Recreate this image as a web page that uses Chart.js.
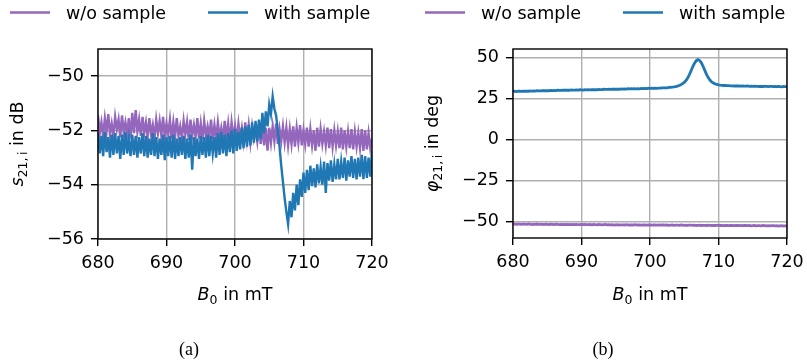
<!DOCTYPE html>
<html lang="en">
  <head>
    <meta charset="UTF-8" />
    <title>Transmission with and without sample</title>
    <style>
      body {
        margin: 0;
        padding: 0;
        background: #fff;
        width: 807px;
        height: 362px;
        overflow: hidden;
      }
      .row {
        display: flex;
      }
      canvas {
        display: block;
      }
    </style>
  </head>
  <body>
    <div class="row">
      <canvas id="chartA" width="403" height="362"></canvas>
      <canvas id="chartB" width="404" height="362"></canvas>
    </div>

    <script src="https://cdn.jsdelivr.net/npm/chart.js"></script>
    <script>
      // magnetic field B0 in mT (sweep points)
      const fieldMT = [
        680, 680.25, 680.5, 680.75, 681, 681.25, 681.5, 681.75,
        682, 682.25, 682.5, 682.75, 683, 683.25, 683.5, 683.75,
        684, 684.25, 684.5, 684.75, 685, 685.25, 685.5, 685.75,
        686, 686.25, 686.5, 686.75, 687, 687.25, 687.5, 687.75,
        688, 688.25, 688.5, 688.75, 689, 689.25, 689.5, 689.75,
        690, 690.25, 690.5, 690.75, 691, 691.25, 691.5, 691.75,
        692, 692.25, 692.5, 692.75, 693, 693.25, 693.5, 693.75,
        694, 694.25, 694.5, 694.75, 695, 695.25, 695.5, 695.75,
        696, 696.25, 696.5, 696.75, 697, 697.25, 697.5, 697.75,
        698, 698.25, 698.5, 698.75, 699, 699.25, 699.5, 699.75,
        700, 700.25, 700.5, 700.75, 701, 701.25, 701.5, 701.75,
        702, 702.25, 702.5, 702.75, 703, 703.25, 703.5, 703.75,
        704, 704.25, 704.5, 704.75, 705, 705.25, 705.5, 705.75,
        706, 706.25, 706.5, 706.75, 707, 707.25, 707.5, 707.75,
        708, 708.25, 708.5, 708.75, 709, 709.25, 709.5, 709.75,
        710, 710.25, 710.5, 710.75, 711, 711.25, 711.5, 711.75,
        712, 712.25, 712.5, 712.75, 713, 713.25, 713.5, 713.75,
        714, 714.25, 714.5, 714.75, 715, 715.25, 715.5, 715.75,
        716, 716.25, 716.5, 716.75, 717, 717.25, 717.5, 717.75,
        718, 718.25, 718.5, 718.75, 719, 719.25, 719.5, 719.75,
        720,
      ];

      // (a) s21,i in dB
      const s21NoSample = [
        -51.45, -52.1, -51.7, -52.2, -51.55, -52.05, -51.4, -52.15,
        -51.75, -52.2, -51.5, -51.95, -51.6, -52.25, -51.45, -52.05,
        -51.7, -52.15, -51.55, -52.3, -51.35, -52.1, -51.25, -52.05,
        -51.6, -52.2, -51.5, -52.1, -51.7, -52.25, -51.55, -52.15,
        -51.8, -52.3, -51.6, -52.1, -51.65, -52.2, -51.5, -52.25,
        -51.75, -52.15, -51.6, -52.3, -51.7, -52.25, -51.55, -52.2,
        -51.85, -52.3, -51.65, -52.15, -51.7, -52.35, -51.6, -52.2,
        -51.8, -52.25, -51.55, -52.3, -51.75, -52.35, -51.65, -52.2,
        -51.85, -52.25, -51.6, -52.35, -51.8, -52.3, -51.7, -52.25,
        -51.9, -52.35, -51.65, -52.3, -51.75, -52.4, -51.7, -52.25,
        -51.85, -52.35, -51.75, -52.3, -51.9, -52.4, -51.7, -52.35,
        -51.8, -52.45, -51.85, -52.3, -51.95, -52.4, -51.75, -52.5,
        -51.85, -52.55, -51.9, -52.75, -51.9, -52.45, -51.85, -52.4,
        -51.75, -52.5, -51.95, -52.4, -51.85, -52.45, -51.9, -52.55,
        -51.95, -52.5, -51.85, -52.6, -51.9, -52.45, -51.8, -52.55,
        -52.0, -52.5, -51.9, -52.6, -51.95, -52.55, -52.0, -52.75,
        -51.9, -52.6, -51.95, -52.5, -52.05, -52.55, -51.9, -52.65,
        -51.95, -52.6, -52.0, -52.55, -52.05, -52.65, -51.9, -52.7,
        -52.0, -52.6, -52.05, -52.65, -51.95, -52.7, -52.05, -52.6,
        -52.1, -52.65, -51.95, -52.75, -52.0, -52.7, -52.1, -52.65,
        -52.3,
      ];
      const s21WithSample = [
        -52.1, -52.85, -52.2, -52.95, -52.05, -52.8, -52.25, -53.0,
        -52.15, -52.9, -52.1, -52.85, -52.2, -53.05, -52.15, -52.9,
        -52.05, -52.85, -52.3, -52.95, -52.15, -52.9, -52.2, -53.0,
        -52.25, -52.85, -52.1, -52.95, -52.2, -53.0, -52.3, -52.9,
        -52.1, -52.95, -52.25, -53.05, -52.3, -52.9, -52.15, -53.1,
        -52.25, -52.95, -52.2, -53.0, -52.15, -53.05, -52.3, -52.95,
        -52.25, -52.9, -52.2, -53.05, -52.3, -53.0, -52.15, -53.45,
        -52.25, -52.95, -52.3, -53.05, -52.2, -52.9, -52.25, -53.0,
        -52.15, -52.95, -52.2, -52.85, -52.25, -53.0, -52.1, -52.9,
        -52.05, -52.85, -52.15, -52.95, -52.1, -52.8, -52.0, -52.85,
        -51.95, -52.75, -52.05, -52.7, -51.9, -52.65, -51.85, -52.6,
        -51.8, -52.55, -51.7, -52.45, -51.65, -52.4, -51.6, -52.3,
        -51.35, -52.1, -51.3, -51.85, -51.05, -51.4, -50.75, -51.2,
        -51.45, -52.0, -52.6, -53.3, -53.9, -54.5, -55.0, -55.45,
        -54.6, -55.2, -54.3, -54.95, -54.0, -54.75, -53.8, -54.45,
        -53.55, -54.3, -53.45, -54.2, -53.3, -54.05, -53.4, -54.1,
        -53.25, -53.95, -53.35, -54.0, -53.15, -54.3, -53.2, -53.85,
        -53.1, -53.9, -53.25, -53.8, -53.05, -53.8, -53.15, -53.75,
        -53.0, -53.85, -53.1, -53.7, -52.95, -53.75, -53.05, -53.8,
        -53.0, -53.7, -52.9, -53.8, -52.95, -53.75, -53.0, -53.7,
        -52.75,
      ];

      // (b) phase phi21,i in deg
      const phiNoSample = [
        -51.6, -51.4, -51.7, -51.5, -51.6, -51.7, -51.5, -51.6,
        -51.7, -51.5, -51.6, -51.8, -51.6, -51.7, -51.5, -51.7,
        -51.7, -51.6, -51.8, -51.6, -51.7, -51.8, -51.6, -51.7,
        -51.8, -51.6, -51.7, -51.8, -51.7, -51.9, -51.7, -51.8,
        -51.8, -51.7, -51.9, -51.8, -51.9, -51.7, -51.8, -51.9,
        -51.8, -51.9, -51.7, -51.9, -51.9, -51.8, -52.0, -51.8,
        -51.9, -52.0, -51.8, -51.9, -52.0, -51.9, -51.8, -52.0,
        -51.9, -52.0, -51.9, -52.1, -52.0, -51.9, -52.1, -52.0,
        -52.0, -52.1, -51.9, -52.0, -52.1, -52.0, -52.1, -51.9,
        -52.0, -52.1, -52.0, -52.2, -52.1, -52.0, -52.2, -52.1,
        -52.1, -52.2, -52.0, -52.1, -52.2, -52.1, -52.2, -52.0,
        -52.1, -52.2, -52.1, -52.3, -52.2, -52.1, -52.3, -52.2,
        -52.2, -52.3, -52.1, -52.2, -52.3, -52.2, -52.3, -52.2,
        -52.2, -52.3, -52.2, -52.4, -52.3, -52.2, -52.4, -52.3,
        -52.3, -52.4, -52.2, -52.3, -52.4, -52.3, -52.4, -52.3,
        -52.3, -52.4, -52.3, -52.5, -52.4, -52.3, -52.5, -52.4,
        -52.4, -52.5, -52.3, -52.4, -52.5, -52.4, -52.5, -52.4,
        -52.4, -52.5, -52.4, -52.6, -52.5, -52.4, -52.6, -52.5,
        -52.5, -52.6, -52.4, -52.5, -52.6, -52.5, -52.6, -52.5,
        -52.5, -52.6, -52.5, -52.7, -52.6, -52.5, -52.7, -52.6,
        -52.6,
      ];
      const phiWithSample = [
        29.2, 29.4, 29.1, 29.3, 29.3, 29.2, 29.4, 29.3,
        29.4, 29.3, 29.5, 29.4, 29.5, 29.4, 29.6, 29.5,
        29.5, 29.7, 29.6, 29.6, 29.7, 29.6, 29.8, 29.7,
        29.8, 29.7, 29.9, 29.8, 29.8, 30.0, 29.9, 29.9,
        30.0, 29.9, 30.1, 30.0, 30.0, 30.1, 30.0, 30.2,
        30.1, 30.0, 30.2, 30.1, 30.2, 30.1, 30.3, 30.2,
        30.3, 30.2, 30.4, 30.3, 30.3, 30.5, 30.4, 30.4,
        30.5, 30.4, 30.6, 30.5, 30.5, 30.6, 30.5, 30.7,
        30.6, 30.7, 30.6, 30.8, 30.7, 30.8, 30.7, 30.9,
        30.8, 30.9, 30.8, 31.0, 30.9, 31.0, 30.9, 31.1,
        31.0, 31.1, 31.0, 31.2, 31.1, 31.2, 31.2, 31.3,
        31.3, 31.4, 31.4, 31.6, 31.6, 31.8, 31.9, 32.1,
        32.4, 32.8, 33.3, 33.9, 34.7, 35.8, 37.3, 39.4,
        41.8, 44.3, 46.4, 47.9, 48.5, 48.0, 46.6, 44.5,
        42.0, 39.6, 37.6, 36.1, 35.0, 34.3, 33.8, 33.5,
        33.2, 33.0, 32.9, 32.8, 32.8, 32.7, 32.7, 32.6,
        32.6, 32.5, 32.6, 32.5, 32.5, 32.4, 32.5, 32.4,
        32.4, 32.5, 32.3, 32.4, 32.3, 32.4, 32.3, 32.3,
        32.2, 32.3, 32.2, 32.3, 32.2, 32.1, 32.3, 32.2,
        32.1, 32.2, 32.1, 32.2, 32.1, 32.0, 32.2, 32.1,
        32.1,
      ];

      const PURPLE = "#9467bd";
      const BLUE = "#1f77b4";
      const FONT = '"DejaVu Sans", sans-serif';
      const SIZE = 17.5;
      const SUB = 12.5;

      // draws a run of text pieces (with subscripts) centred on x
      function drawPieces(ctx, pieces, cx, y) {
        let total = 0;
        pieces.forEach((p) => {
          ctx.font = p.font;
          p.w = ctx.measureText(p.t).width;
          total += p.w;
        });
        let x = cx - total / 2;
        ctx.textAlign = "left";
        ctx.textBaseline = "alphabetic";
        pieces.forEach((p) => {
          ctx.font = p.font;
          ctx.fillText(p.t, x, y + (p.dy || 0));
          x += p.w;
        });
      }

      const figureDecor = {
        id: "figureDecor",
        afterDraw(chart, args, opts) {
          const { ctx, chartArea: a } = chart;
          ctx.save();
          ctx.fillStyle = "#000";

          // frame round the axes
          ctx.strokeStyle = "#000";
          ctx.lineWidth = 1.4;
          ctx.strokeRect(a.left, a.top, a.right - a.left, a.bottom - a.top);

          // legend
          const items = [
            { text: "w/o sample", color: PURPLE, x: a.left - 88 },
            { text: "with sample", color: BLUE, x: a.left + 110 },
          ];
          items.forEach((it) => {
            ctx.strokeStyle = it.color;
            ctx.lineWidth = 2.6;
            ctx.beginPath();
            ctx.moveTo(it.x, 12.5);
            ctx.lineTo(it.x + 40, 12.5);
            ctx.stroke();
            ctx.font = SIZE + "px " + FONT;
            ctx.textAlign = "left";
            ctx.textBaseline = "alphabetic";
            ctx.fillText(it.text, it.x + 56, 18.5);
          });

          const normal = SIZE + "px " + FONT;
          const italic = "italic " + SIZE + "px " + FONT;
          const small = SUB + "px " + FONT;

          // x axis title
          drawPieces(
            ctx,
            [
              { t: "B", font: italic },
              { t: "0", font: small, dy: 4 },
              { t: " in mT", font: normal },
            ],
            (a.left + a.right) / 2,
            300
          );

          // y axis title
          ctx.save();
          ctx.translate(a.left - 75, (a.top + a.bottom) / 2);
          ctx.rotate(-Math.PI / 2);
          drawPieces(
            ctx,
            [
              { t: opts.ySymbol, font: italic },
              { t: "21,\u2009i", font: small, dy: 4 },
              { t: " in " + opts.yUnit, font: normal },
            ],
            0,
            0
          );
          ctx.restore();

          // sub figure caption
          ctx.font = '18px "Liberation Serif", serif';
          ctx.textAlign = "center";
          ctx.textBaseline = "alphabetic";
          ctx.fillText(opts.caption, opts.captionX, 355);

          ctx.restore();
        },
      };

      function minusSign(v) {
        return String(v).replace("-", "\u2212");
      }

      function makeChart(id, cfg) {
        const ctx = document.getElementById(id).getContext("2d");
        return new Chart(ctx, {
          type: "line",
          data: {
            labels: fieldMT,
            datasets: [
              {
                label: "w/o sample",
                data: cfg.without,
                borderColor: PURPLE,
                borderWidth: cfg.lineWidth,
                pointRadius: 0,
                tension: 0,
                fill: false,
                order: 1,
              },
              {
                label: "with sample",
                data: cfg.withS,
                borderColor: BLUE,
                borderWidth: cfg.lineWidth,
                pointRadius: 0,
                tension: 0,
                fill: false,
                order: 0,
              },
            ],
          },
          options: {
            responsive: false,
            animation: false,
            layout: {
              padding: { top: 49, right: cfg.padRight, left: 0, bottom: 0 },
            },
            scales: {
              x: {
                type: "linear",
                min: 680,
                max: 720,
                ticks: {
                  stepSize: 10,
                  color: "#000",
                  padding: 7,
                  maxRotation: 0,
                  font: { family: FONT, size: SIZE },
                },
                grid: {
                  color: "#b0b0b0",
                  lineWidth: 1.4,
                  tickColor: "#000",
                  tickWidth: 1.4,
                  tickLength: 7,
                },
                border: { display: false },
                afterFit: (s) => {
                  s.height = cfg.xHeight;
                  s.paddingLeft = 0;
                  s.paddingRight = 0;
                },
              },
              y: {
                min: cfg.yMin,
                max: cfg.yMax,
                ticks: {
                  stepSize: cfg.yStep,
                  includeBounds: false,
                  color: "#000",
                  padding: 7,
                  font: { family: FONT, size: SIZE },
                  callback: (v) => minusSign(v),
                },
                grid: {
                  color: "#b0b0b0",
                  lineWidth: 1.4,
                  tickColor: "#000",
                  tickWidth: 1.4,
                  tickLength: 7,
                },
                border: { display: false },
                afterFit: (s) => {
                  s.width = cfg.yWidth;
                  s.paddingTop = 0;
                  s.paddingBottom = 0;
                },
              },
            },
            plugins: {
              legend: { display: false },
              tooltip: { enabled: false },
              figureDecor: {
                ySymbol: cfg.ySymbol,
                yUnit: cfg.yUnit,
                caption: cfg.caption,
                captionX: cfg.captionX,
              },
            },
          },
          plugins: [figureDecor],
        });
      }

      makeChart("chartA", {
        without: s21NoSample,
        withS: s21WithSample,
        lineWidth: 2.4,
        yMin: -56,
        yMax: -49,
        yStep: 2,
        yWidth: 98,
        xHeight: 123,
        padRight: 31,
        ySymbol: "s",
        yUnit: "dB",
        caption: "(a)",
        captionX: 189,
      });

      makeChart("chartB", {
        without: phiNoSample,
        withS: phiWithSample,
        lineWidth: 2.8,
        yMin: -60,
        yMax: 55,
        yStep: 25,
        yWidth: 110,
        xHeight: 124,
        padRight: 20,
        ySymbol: "\u03c6",
        yUnit: "deg",
        caption: "(b)",
        captionX: 200,
      });
    </script>
  </body>
</html>
